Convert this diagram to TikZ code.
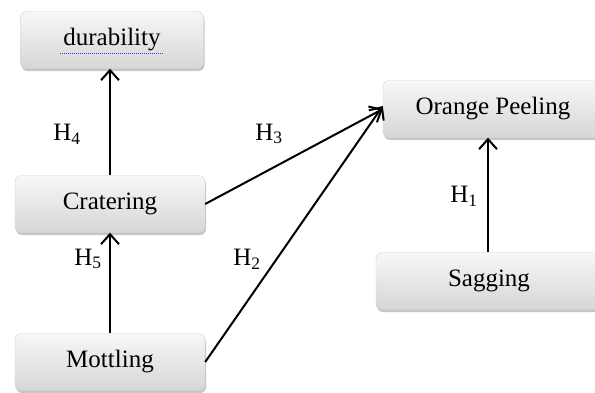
\documentclass[tikz,border=0pt]{standalone}
\usepackage{fontspec}
\setmainfont{Liberation Serif}
\usetikzlibrary{arrows.meta, shadows}

\begin{document}
\begin{tikzpicture}[x=1pt,y=-1pt,thick,
    factor/.style={rounded corners=6pt,top color=gray!6,bottom color=gray!32,
      draw=gray!35,thin,drop shadow={shadow xshift=1pt,shadow yshift=-2.5pt,opacity=.45},
      minimum height=57pt,inner sep=0pt,font=\fontsize{25}{30}\selectfont},
    link/.style={-{Straight Barb[length=10pt,width=18pt,line width=2pt]},line width=2pt},
    hyp/.style={font=\fontsize{25}{30}\selectfont}]
  \useasboundingbox (0,0) rectangle (595,392);

  \node [factor,minimum width=183pt] (dur) at (112,40) {durability};
  \node [factor,minimum width=190pt] (crat) at (110,204) {Cratering};
  \node [factor,minimum width=190pt] (mott) at (110,362) {Mottling};
  \node [factor,minimum width=220pt] (orange) at (493,109) {Orange Peeling};
  \node [factor,minimum width=226pt] (sag) at (489,281) {Sagging};

  % spell-check underline
  \draw [blue!80,densely dotted,line width=1pt] ([shift={(-52,13)}]dur.center) -- ++(104,0);

  \draw [link] (crat.north -| 110,0) -- (dur.south -| 110,0);
  \draw [link] (mott) -- (crat);
  \draw [link] (sag.north -| 488,0) -- (orange.south -| 488,0);
  \draw [link] (crat.east) -- (orange.west);
  \draw [link] (mott.east) -- ([yshift=3pt]orange.west);

  \node [hyp] (h4) at (67,134) {H\textsubscript{4}};
  \node [hyp] (h3) at (269,134) {H\textsubscript{3}};
  \node [hyp] (h5) at (88,259) {H\textsubscript{5}};
  \node [hyp] (h2) at (247,259) {H\textsubscript{2}};
  \node [hyp] (h1) at (464,196) {H\textsubscript{1}};
\end{tikzpicture}
\end{document}
